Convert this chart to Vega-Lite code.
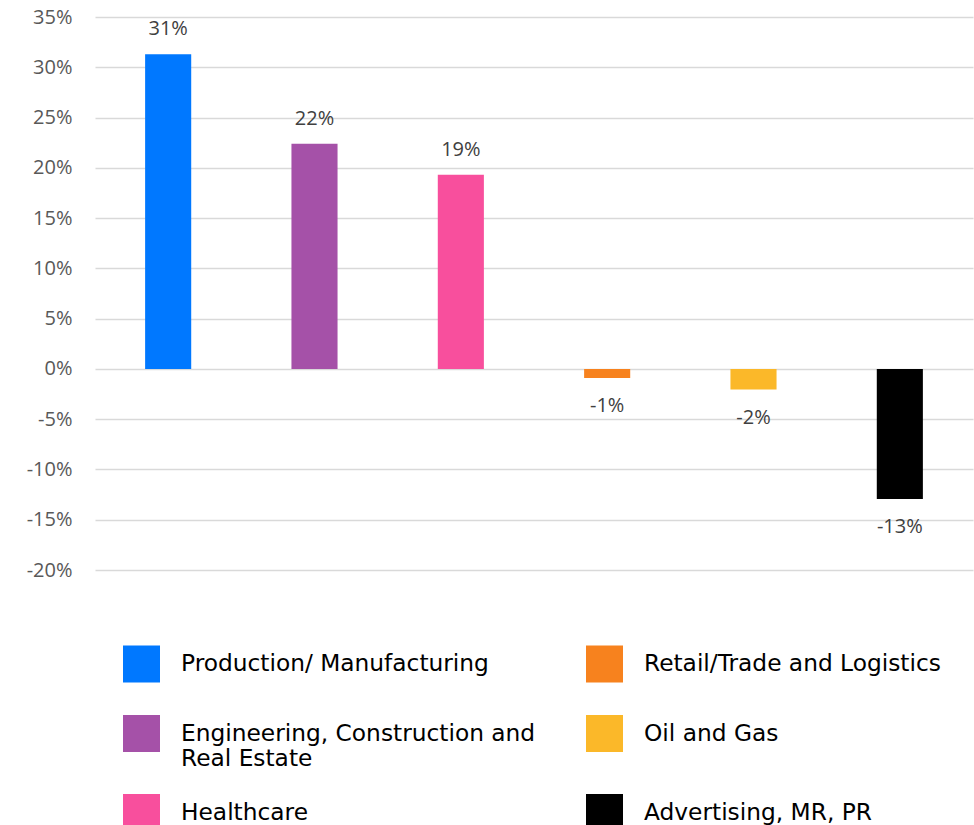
{
  "$schema": "https://vega.github.io/schema/vega-lite/v6.json",
  "autosize": "none",
  "width": 878,
  "height": 553,
  "padding": {"left": 95, "top": 17, "right": 1, "bottom": 255},
  "background": "white",
  "data": {
    "values": [
      {"sector": "Production/ Manufacturing", "value": 0.313},
      {"sector": "Engineering, Construction and Real Estate", "value": 0.224},
      {"sector": "Healthcare", "value": 0.193},
      {"sector": "Retail/Trade and Logistics", "value": -0.009},
      {"sector": "Oil and Gas", "value": -0.0205},
      {"sector": "Advertising, MR, PR", "value": -0.1293}
    ]
  },
  "config": {
    "view": {"stroke": null},
    "locale": {"number": {"decimal": ".", "thousands": ",", "grouping": [3], "currency": ["$", ""], "minus": "-"}},
    "axis": {"labelFont": "Open Sans", "labelFontSize": 20, "labelColor": "#595959"}
  },
  "encoding": {
    "x": {
      "field": "sector",
      "type": "nominal",
      "sort": null,
      "axis": null,
      "scale": {"paddingInner": 0.685, "paddingOuter": 0.3425}
    },
    "y": {
      "field": "value",
      "type": "quantitative",
      "scale": {"domain": [-0.2, 0.35], "nice": false},
      "axis": {
        "title": null,
        "format": ".0%",
        "values": [-0.2, -0.15, -0.1, -0.05, 0, 0.05, 0.1, 0.15, 0.2, 0.25, 0.3, 0.35],
        "domain": false,
        "ticks": false,
        "labelPadding": 23,
        "gridColor": "#d9d9d9",
        "gridWidth": 1.6
      }
    }
  },
  "layer": [
    {
      "mark": {"type": "bar", "opacity": 1},
      "encoding": {
        "color": {
          "field": "sector",
          "type": "nominal",
          "sort": null,
          "scale": {
            "domain": ["Production/ Manufacturing", "Engineering, Construction and Real Estate", "Healthcare", "Retail/Trade and Logistics", "Oil and Gas", "Advertising, MR, PR"],
            "range": ["#0078ff", "#a551a8", "#f84f9d", "#f7821e", "#fbb829", "#000000"]
          },
          "legend": {
            "orient": "none",
            "legendX": 28,
            "legendY": 619,
            "title": null,
            "columns": 2,
            "gridAlign": "all",
            "columnPadding": 50,
            "rowPadding": 23,
            "symbolType": "square",
            "symbolSize": 1369,
            "symbolStrokeWidth": 0,
            "symbolOpacity": 1,
            "labelFont": "DejaVu Sans",
            "labelFontSize": 23.3,
            "labelColor": "#000000",
            "labelOffset": 21,
            "labelLimit": 600,
            "labelExpr": "datum.label == 'Engineering, Construction and Real Estate' ? ['Engineering, Construction and', 'Real Estate'] : datum.label"
          }
        }
      }
    },
    {
      "transform": [{"filter": "datum.value >= 0"}],
      "mark": {"type": "text", "font": "Open Sans", "fontSize": 20, "color": "#404040", "baseline": "middle", "dy": -25},
      "encoding": {"text": {"field": "value", "type": "quantitative", "format": ".0%"}}
    },
    {
      "transform": [{"filter": "datum.value < 0"}],
      "mark": {"type": "text", "font": "Open Sans", "fontSize": 20, "color": "#404040", "baseline": "middle", "dy": 28},
      "encoding": {"text": {"field": "value", "type": "quantitative", "format": ".0%"}}
    }
  ]
}
